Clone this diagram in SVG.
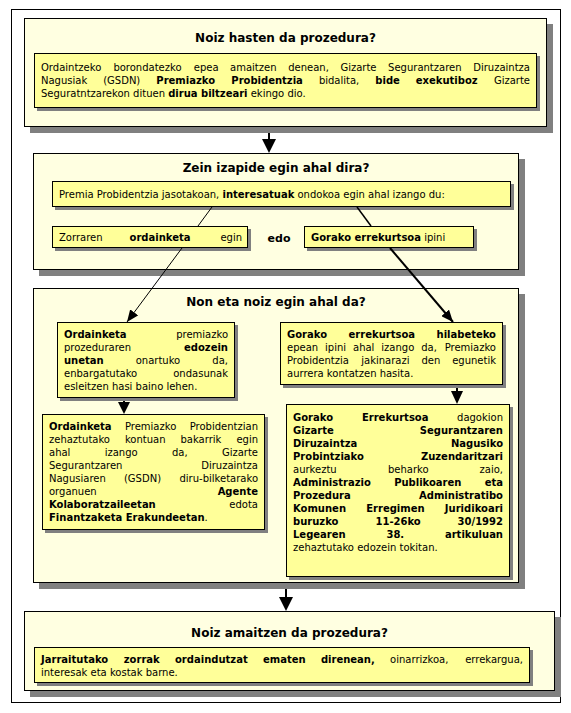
<svg xmlns="http://www.w3.org/2000/svg" width="571" height="713" viewBox="0 0 571 713">
<defs>
<style>
.panel{fill:#FFFFE1;stroke:#000;stroke-width:1}
.box{fill:#FFFF99;stroke:#000;stroke-width:1}
.sh{fill:#808080}
text{font-family:"DejaVu Sans",Verdana,sans-serif;font-size:10px;fill:#000}
.t{font-size:12px;font-weight:bold;text-anchor:middle}
.b{font-weight:bold}
.e{text-anchor:end}
.m{text-anchor:middle}
.ln{stroke:#000;fill:none}
.ah{fill:#000}
</style>
<marker id="arr" viewBox="0 0 12 10" refX="12" refY="5" markerWidth="12" markerHeight="10" markerUnits="userSpaceOnUse" orient="auto">
<path d="M0,0 L12,5 L0,10 z" fill="#000"/>
</marker>
</defs>
<rect x="0" y="0" width="571" height="713" fill="#fff"/>
<rect x="11.5" y="9.5" width="549" height="693" fill="#fff" stroke="#000"/>

<g id="panel-start">
<rect class="sh" x="30" y="24" width="523" height="109"/>
<rect class="panel" x="24.5" y="18.5" width="522" height="108"/>
<text class="t" x="285.5" y="42">Noiz hasten da prozedura?</text>
<rect class="sh" x="37" y="56" width="503" height="55"/>
<rect class="box" x="34.5" y="53.5" width="502" height="54"/>
<text y="71"><tspan x="41">Ordaintzeko</tspan><tspan x="113.4">borondatezko</tspan><tspan x="193.8">epea</tspan><tspan x="230.1">amaitzen</tspan><tspan x="288.2">denean,</tspan><tspan x="340.4">Gizarte</tspan><tspan x="388.1">Segurantzaren</tspan><tspan x="530" class="e">Diruzaintza</tspan></text>
<text y="84"><tspan x="41">Nagusiak</tspan><tspan x="103.2">(GSDN)</tspan><tspan x="156.3" class="b">Premiazko</tspan><tspan x="231.3" class="b">Probidentzia</tspan><tspan x="318.9">bidalita,</tspan><tspan x="375.3" class="b">bide</tspan><tspan x="415.8" class="b">exekutiboz</tspan><tspan x="530" class="e">Gizarte</tspan></text>
<text x="41" y="97">Seguratntzarekon dituen <tspan class="b">dirua biltzeari</tspan> ekingo dio.</text>
</g>

<g id="panel-steps">
<rect class="sh" x="39" y="159" width="486" height="117"/>
<rect class="panel" x="33.5" y="153.5" width="485" height="116"/>
<text class="t" x="276" y="171.5">Zein izapide egin ahal dira?</text>
</g>
<g id="box-premia">
<rect class="sh" x="55" y="184" width="459" height="26"/>
<rect class="box" x="52.5" y="181.5" width="458" height="25"/>
<text x="59" y="197.5">Premia Probidentzia jasotakoan, <tspan class="b">interesatuak</tspan> ondokoa egin ahal izango du:</text>
</g>
<g id="box-ordainketa">
<rect class="sh" x="55" y="229" width="196" height="22"/>
<rect class="box" x="52.5" y="226.5" width="195" height="21"/>
<text y="241"><tspan x="59">Zorraren</tspan><tspan x="160" class="m b">ordainketa</tspan><tspan x="242" class="e">egin</tspan></text>
</g>
<g id="label-edo">
<text class="b" x="279" y="241.5" text-anchor="middle" style="font-size:11px">edo</text>
</g>
<g id="box-errekurtsoa">
<rect class="sh" x="307" y="229" width="170" height="22"/>
<rect class="box" x="304.5" y="226.5" width="169" height="21"/>
<text x="311" y="241"><tspan class="b">Gorako errekurtsoa</tspan> ipini</text>
</g>

<g id="panel-where">
<rect class="sh" x="39" y="294" width="486" height="295"/>
<rect class="panel" x="33.5" y="288.5" width="485" height="294"/>
<text class="t" x="276" y="306">Non eta noiz egin ahal da?</text>
</g>
<g id="box-l1">
<rect class="sh" x="60" y="325" width="178" height="76"/>
<rect class="box" x="57.5" y="322.5" width="177" height="75"/>
<text y="337.5"><tspan x="64" class="b">Ordainketa</tspan><tspan x="228" class="e">premiazko</tspan></text>
<text y="350.5"><tspan x="64">prozeduraren</tspan><tspan x="228" class="e b">edozein</tspan></text>
<text y="363.5"><tspan x="64" class="b">unetan</tspan><tspan x="158" class="m">onartuko</tspan><tspan x="228" class="e">da,</tspan></text>
<text y="376.5"><tspan x="64">enbargatutako</tspan><tspan x="228" class="e">ondasunak</tspan></text>
<text x="64" y="389.5">esleitzen hasi baino lehen.</text>
</g>
<g id="box-l2">
<rect class="sh" x="45" y="417" width="223" height="116"/>
<rect class="box" x="42.5" y="414.5" width="222" height="115"/>
<text y="429.5"><tspan x="49" class="b">Ordainketa</tspan><tspan x="150.6" class="m">Premiazko</tspan><tspan x="258" class="e">Probidentzian</tspan></text>
<text y="442.5"><tspan x="49">zehaztutako</tspan><tspan x="124.9">kontuan</tspan><tspan x="180.5">bakarrik</tspan><tspan x="258" class="e">egin</tspan></text>
<text y="455.5"><tspan x="49">ahal</tspan><tspan x="104.7">izango</tspan><tspan x="172">da,</tspan><tspan x="258" class="e">Gizarte</tspan></text>
<text y="468.5"><tspan x="49">Segurantzaren</tspan><tspan x="258" class="e">Diruzaintza</tspan></text>
<text y="481.5"><tspan x="49">Nagusiaren</tspan><tspan x="142.5" class="m">(GSDN)</tspan><tspan x="258" class="e">diru-bilketarako</tspan></text>
<text y="494.5"><tspan x="49">organuen</tspan><tspan x="258" class="e b">Agente</tspan></text>
<text y="507.5"><tspan x="49" class="b">Kolaboratzaileetan</tspan><tspan x="258" class="e">edota</tspan></text>
<text x="49" y="520.5"><tspan class="b">Finantzaketa Erakundeetan</tspan>.</text>
</g>
<g id="box-r1">
<rect class="sh" x="283" y="325" width="223" height="63"/>
<rect class="box" x="280.5" y="322.5" width="222" height="62"/>
<text y="338" class="b"><tspan x="287">Gorako</tspan><tspan x="381.8" class="m">errekurtsoa</tspan><tspan x="496" class="e">hilabeteko</tspan></text>
<text y="351"><tspan x="287">epean</tspan><tspan x="325">ipini</tspan><tspan x="353">ahal</tspan><tspan x="381.3">izango</tspan><tspan x="421.2">da,</tspan><tspan x="496" class="e">Premiazko</tspan></text>
<text y="364"><tspan x="287">Probidentzia</tspan><tspan x="361.3">jakinarazi</tspan><tspan x="421.5">den</tspan><tspan x="496" class="e">egunetik</tspan></text>
<text x="287" y="377">aurrera kontatzen hasita.</text>
</g>
<g id="box-r2">
<rect class="sh" x="289" y="407" width="224" height="173"/>
<rect class="box" x="286.5" y="404.5" width="223" height="172"/>
<text y="420.5"><tspan x="293" class="b">Gorako</tspan><tspan x="395.2" class="m b">Errekurtsoa</tspan><tspan x="503" class="e">dagokion</tspan></text>
<text y="433.5" class="b"><tspan x="293">Gizarte</tspan><tspan x="503" class="e">Segurantzaren</tspan></text>
<text y="446.5" class="b"><tspan x="293">Diruzaintza</tspan><tspan x="503" class="e">Nagusiko</tspan></text>
<text y="459.5" class="b"><tspan x="293">Probintziako</tspan><tspan x="503" class="e">Zuzendaritzari</tspan></text>
<text y="472.5"><tspan x="293">aurkeztu</tspan><tspan x="408.3" class="m">beharko</tspan><tspan x="503" class="e">zaio,</tspan></text>
<text y="485.5" class="b"><tspan x="293">Administrazio</tspan><tspan x="427.8" class="m">Publikoaren</tspan><tspan x="503" class="e">eta</tspan></text>
<text y="498.5" class="b"><tspan x="293">Prozedura</tspan><tspan x="503" class="e">Administratibo</tspan></text>
<text y="511.5" class="b"><tspan x="293">Komunen</tspan><tspan x="395.4" class="m">Erregimen</tspan><tspan x="503" class="e">Juridikoari</tspan></text>
<text y="524.5" class="b"><tspan x="293">buruzko</tspan><tspan x="398.1" class="m">11-26ko</tspan><tspan x="503" class="e">30/1992</tspan></text>
<text y="537.5" class="b"><tspan x="293">Legearen</tspan><tspan x="395.3" class="m">38.</tspan><tspan x="503" class="e">artikuluan</tspan></text>
<text x="293" y="550.5">zehaztutako edozein tokitan.</text>
</g>

<g id="panel-end">
<rect class="sh" x="30" y="617" width="531" height="80"/>
<rect class="panel" x="24.5" y="611.5" width="530" height="79"/>
<text class="t" x="289.5" y="636.5">Noiz amaitzen da prozedura?</text>
<rect class="sh" x="37" y="650" width="496" height="36"/>
<rect class="box" x="34.5" y="647.5" width="495" height="35"/>
<text y="662.5"><tspan x="41" class="b">Jarraitutako</tspan><tspan x="123.8" class="b">zorrak</tspan><tspan x="175" class="b">ordaindutzat</tspan><tspan x="263" class="b">ematen</tspan><tspan x="320.9" class="b">direnean,</tspan><tspan x="390.1">oinarrizkoa,</tspan><tspan x="523" class="e">errekargua,</tspan></text>
<text x="41" y="675.5">interesak eta kostak barne.</text>
</g>

<g id="connectors">
<line class="ln" x1="269" y1="133" x2="269" y2="140" stroke-width="2"/>
<path class="ah" d="M262,139 L276,139 L269,153 z"/>
<line class="ln" x1="212" y1="207" x2="198" y2="226"/>
<line class="ln" x1="357" y1="207" x2="371" y2="226" stroke-width="1.5"/>
<line class="ln" x1="182" y1="248" x2="127" y2="322" marker-end="url(#arr)"/>
<line class="ln" x1="390" y1="248" x2="453" y2="322" stroke-width="2" marker-end="url(#arr)"/>
<line class="ln" x1="124" y1="401" x2="124" y2="404" stroke-width="2"/>
<path class="ah" d="M118,402 L130,402 L124,414 z"/>
<line class="ln" x1="457" y1="388" x2="457" y2="392" stroke-width="2"/>
<path class="ah" d="M451,391 L463,391 L457,404 z"/>
<line class="ln" x1="286" y1="589" x2="286" y2="598" stroke-width="2"/>
<path class="ah" d="M279,597 L293,597 L286,611 z"/>
</g>
</svg>
